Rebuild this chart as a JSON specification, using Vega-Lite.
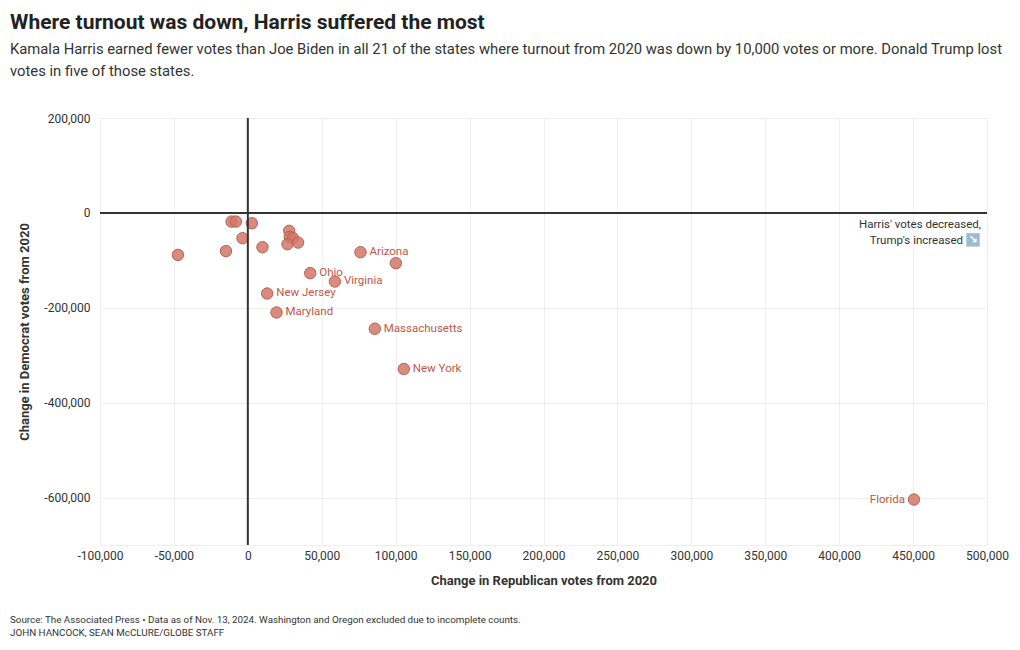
{
  "$schema": "https://vega.github.io/schema/vega-lite/v6.json",
  "width": 887,
  "height": 427,
  "autosize": "none",
  "padding": {"left": 100, "top": 118, "right": 33, "bottom": 105},
  "background": "white",
  "title": {
    "text": "Where turnout was down, Harris suffered the most",
    "subtitle": ["Kamala Harris earned fewer votes than Joe Biden in all 21 of the states where turnout from 2020 was down by 10,000 votes or more. Donald Trump lost", "votes in five of those states."],
    "anchor": "start",
    "frame": "group",
    "dx": -90,
    "offset": 33,
    "font": "Roboto",
    "fontSize": 21,
    "fontWeight": "bold",
    "color": "#222222",
    "subtitleFont": "Roboto",
    "subtitleFontSize": 14.8,
    "subtitleColor": "#333333",
    "subtitlePadding": 9,
    "subtitleLineHeight": 22
  },
  "config": {
    "view": {"stroke": null},
    "font": "Roboto",
    "axis": {
      "labelFont": "Roboto",
      "titleFont": "Roboto",
      "labelFontSize": 12,
      "labelColor": "#333333",
      "labelFlush": false,
      "titleFontSize": 13,
      "titleFontWeight": "bold",
      "titleColor": "#333333",
      "gridColor": "#eeeeee",
      "ticks": false,
      "domainColor": "#eeeeee"
    }
  },
  "datasets": {
    "states": [
      {"x": -47300, "y": -88500, "state": null},
      {"x": -14800, "y": -80500, "state": null},
      {"x": -11000, "y": -18300, "state": null},
      {"x": -8100, "y": -18300, "state": null},
      {"x": -3600, "y": -53300, "state": null},
      {"x": 2700, "y": -21700, "state": null},
      {"x": 9900, "y": -72300, "state": null},
      {"x": 28000, "y": -37900, "state": null},
      {"x": 28400, "y": -50500, "state": null},
      {"x": 30500, "y": -53000, "state": null},
      {"x": 26800, "y": -66000, "state": null},
      {"x": 34000, "y": -62500, "state": null},
      {"x": 76200, "y": -82800, "state": "Arizona"},
      {"x": 100100, "y": -106000, "state": null},
      {"x": 42200, "y": -127000, "state": "Ohio"},
      {"x": 58900, "y": -144600, "state": "Virginia"},
      {"x": 13100, "y": -169900, "state": "New Jersey"},
      {"x": 19400, "y": -209900, "state": "Maryland"},
      {"x": 85900, "y": -244200, "state": "Massachusetts"},
      {"x": 105500, "y": -329100, "state": "New York"},
      {"x": 450600, "y": -604200, "state": "Florida"}
    ],
    "note1": [{"text": "Harris' votes decreased,"}],
    "note2": [{"text": "Trump's increased"}],
    "arrow": [{"text": "↘"}],
    "footer": [{"line1": "Source: The Associated Press • Data as of Nov. 13, 2024. Washington and Oregon excluded due to incomplete counts.", "line2": "JOHN HANCOCK, SEAN McCLURE/GLOBE STAFF"}],
    "zero": [{"v": 0}]
  },
  "layer": [
    {
      "data": {"name": "states"},
      "mark": {"type": "circle", "size": 130, "fill": "#d4776a", "fillOpacity": 0.85, "stroke": "#b8614f", "strokeWidth": 1, "opacity": 1},
      "encoding": {
        "x": {
          "field": "x",
          "type": "quantitative",
          "scale": {"domain": [-100000, 500000], "nice": false, "zero": false},
          "axis": {
            "title": "Change in Republican votes from 2020",
            "values": [-100000, -50000, 0, 50000, 100000, 150000, 200000, 250000, 300000, 350000, 400000, 450000, 500000],
            "format": ",.0f",
            "labelExpr": "replace(datum.label, '\u2212', '-')",
            "labelPadding": 5,
            "titlePadding": 13
          }
        },
        "y": {
          "field": "y",
          "type": "quantitative",
          "scale": {"domain": [-700000, 200000], "nice": false, "zero": false},
          "axis": {
            "title": "Change in Democrat votes from 2020",
            "values": [-600000, -400000, -200000, 0, 200000],
            "format": ",.0f",
            "labelExpr": "replace(datum.label, '\u2212', '-')",
            "labelPadding": 10,
            "titlePadding": 12,
            "domain": false
          }
        }
      }
    },
    {
      "data": {"name": "zero"},
      "mark": {"type": "rule", "color": "#333333", "strokeWidth": 2},
      "encoding": {"x": {"field": "v", "type": "quantitative"}}
    },
    {
      "data": {"name": "zero"},
      "mark": {"type": "rule", "color": "#333333", "strokeWidth": 2},
      "encoding": {"y": {"field": "v", "type": "quantitative"}}
    },
    {
      "data": {"name": "states"},
      "transform": [{"filter": "datum.state != null && datum.state != 'Florida'"}],
      "mark": {"type": "text", "align": "left", "baseline": "middle", "dx": 9, "fontSize": 11.5, "color": "#c0574a"},
      "encoding": {"x": {"field": "x", "type": "quantitative"}, "y": {"field": "y", "type": "quantitative"}, "text": {"field": "state"}}
    },
    {
      "data": {"name": "states"},
      "transform": [{"filter": "datum.state == 'Florida'"}],
      "mark": {"type": "text", "align": "right", "baseline": "middle", "dx": -9, "fontSize": 11.5, "color": "#c0574a"},
      "encoding": {"x": {"field": "x", "type": "quantitative"}, "y": {"field": "y", "type": "quantitative"}, "text": {"field": "state"}}
    },
    {
      "data": {"name": "note1"},
      "mark": {"type": "text", "align": "right", "baseline": "alphabetic", "dx": -6, "dy": 15, "fontSize": 11.5, "color": "#333333"},
      "encoding": {"x": {"datum": 500000}, "y": {"datum": 0}, "text": {"field": "text"}}
    },
    {
      "data": {"name": "note2"},
      "mark": {"type": "text", "align": "right", "baseline": "alphabetic", "dx": -24, "dy": 31, "fontSize": 11.5, "color": "#333333"},
      "encoding": {"x": {"datum": 500000}, "y": {"datum": 0}, "text": {"field": "text"}}
    },
    {
      "data": {"name": "arrow"},
      "mark": {"type": "square", "size": 180, "fill": "#9dbbd0", "opacity": 1, "xOffset": -14, "yOffset": 27},
      "encoding": {"x": {"datum": 500000}, "y": {"datum": 0}}
    },
    {
      "data": {"name": "arrow"},
      "mark": {"type": "text", "align": "center", "baseline": "middle", "dx": -14, "dy": 27, "fontSize": 11, "font": "DejaVu Sans", "color": "#ffffff", "fontWeight": "bold"},
      "encoding": {"x": {"datum": 500000}, "y": {"datum": 0}, "text": {"field": "text"}}
    },
    {
      "data": {"name": "footer"},
      "mark": {"type": "text", "align": "left", "baseline": "alphabetic", "dx": -90, "dy": 78, "fontSize": 9.8, "color": "#333333"},
      "encoding": {"x": {"datum": -100000}, "y": {"datum": -700000}, "text": {"field": "line1"}}
    },
    {
      "data": {"name": "footer"},
      "mark": {"type": "text", "align": "left", "baseline": "alphabetic", "dx": -90, "dy": 91, "fontSize": 9.8, "color": "#333333"},
      "encoding": {"x": {"datum": -100000}, "y": {"datum": -700000}, "text": {"field": "line2"}}
    }
  ]
}
